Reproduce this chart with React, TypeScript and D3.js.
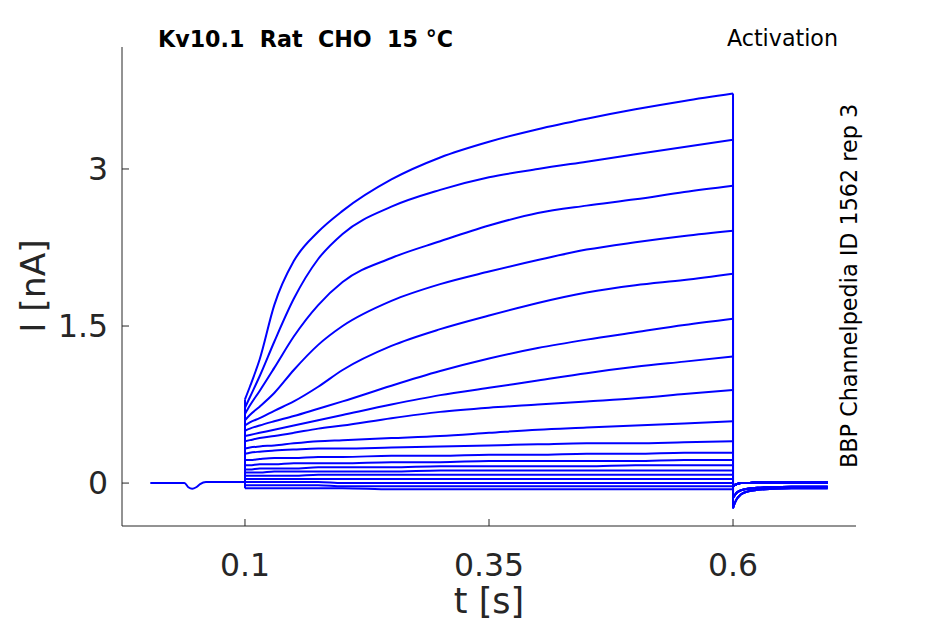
import React from 'react';
import * as d3 from 'd3';

// time points (s) sampled along the voltage step
const stepTimes = [0.1, 0.105, 0.115, 0.13, 0.15, 0.175, 0.2, 0.25, 0.3, 0.35, 0.4, 0.45, 0.5, 0.55, 0.6];

// current (nA) of each sweep at stepTimes
const sweep01 = [0.80, 0.92, 1.18, 1.70, 2.12, 2.40, 2.60, 2.90, 3.11, 3.26, 3.38, 3.48, 3.57, 3.65, 3.72];
const sweep02 = [0.72, 0.82, 1.02, 1.35, 1.76, 2.14, 2.38, 2.64, 2.80, 2.92, 3.00, 3.07, 3.14, 3.21, 3.28];
const sweep03 = [0.66, 0.74, 0.88, 1.10, 1.40, 1.70, 1.92, 2.15, 2.31, 2.46, 2.58, 2.65, 2.71, 2.78, 2.84];
const sweep04 = [0.60, 0.65, 0.73, 0.86, 1.08, 1.32, 1.50, 1.74, 1.90, 2.02, 2.13, 2.23, 2.30, 2.36, 2.41];
const sweep05 = [0.55, 0.58, 0.62, 0.69, 0.78, 0.92, 1.08, 1.31, 1.47, 1.60, 1.72, 1.82, 1.89, 1.94, 2.00];
const sweep06 = [0.50, 0.52, 0.55, 0.59, 0.64, 0.71, 0.78, 0.93, 1.07, 1.19, 1.29, 1.37, 1.44, 1.51, 1.57];
const sweep07 = [0.45, 0.46, 0.48, 0.51, 0.55, 0.60, 0.65, 0.75, 0.84, 0.91, 0.98, 1.05, 1.11, 1.16, 1.21];
const sweep08 = [0.40, 0.41, 0.43, 0.45, 0.48, 0.52, 0.55, 0.62, 0.68, 0.72, 0.75, 0.78, 0.81, 0.85, 0.89];
const sweep09 = [0.33, 0.34, 0.35, 0.36, 0.38, 0.40, 0.41, 0.43, 0.45, 0.48, 0.51, 0.53, 0.55, 0.57, 0.59];
const sweep10 = [0.28, 0.29, 0.30, 0.31, 0.32, 0.33, 0.33, 0.34, 0.35, 0.36, 0.37, 0.38, 0.38, 0.39, 0.40];
const sweep11 = [0.22, 0.22, 0.23, 0.24, 0.24, 0.25, 0.25, 0.26, 0.26, 0.27, 0.27, 0.28, 0.28, 0.29, 0.29];
const sweep12 = [0.17, 0.17, 0.18, 0.18, 0.19, 0.19, 0.19, 0.20, 0.20, 0.21, 0.21, 0.21, 0.21, 0.22, 0.22];
const sweep13 = [0.13, 0.13, 0.14, 0.14, 0.14, 0.15, 0.15, 0.15, 0.16, 0.16, 0.16, 0.16, 0.17, 0.17, 0.17];
const sweep14 = [0.10, 0.10, 0.10, 0.11, 0.11, 0.11, 0.11, 0.11, 0.12, 0.12, 0.12, 0.12, 0.12, 0.12, 0.12];
const sweep15 = [0.07, 0.07, 0.07, 0.07, 0.07, 0.08, 0.08, 0.08, 0.08, 0.08, 0.08, 0.08, 0.08, 0.08, 0.08];
const sweep16 = [0.04, 0.04, 0.04, 0.04, 0.04, 0.04, 0.04, 0.04, 0.04, 0.04, 0.04, 0.04, 0.04, 0.04, 0.04];
const sweep17 = [0.01, 0.01, 0.01, 0.01, 0.01, 0.01, 0.00, 0.00, 0.00, 0.00, 0.00, 0.00, 0.00, 0.00, 0.00];
const sweep18 = [-0.02, -0.02, -0.02, -0.02, -0.02, -0.02, -0.03, -0.03, -0.03, -0.03, -0.03, -0.03, -0.03, -0.03, -0.03];
const sweep19 = [-0.05, -0.05, -0.05, -0.05, -0.05, -0.05, -0.05, -0.06, -0.06, -0.06, -0.06, -0.06, -0.06, -0.06, -0.06];

const sweeps = [sweep01, sweep02, sweep03, sweep04, sweep05, sweep06, sweep07, sweep08, sweep09, sweep10,
  sweep11, sweep12, sweep13, sweep14, sweep15, sweep16, sweep17, sweep18, sweep19];

// holding period before the step (same for every sweep)
const holdTimes = [0.003, 0.038, 0.042, 0.046, 0.05, 0.054, 0.06, 0.1];
const holdValues = [0.0, 0.0, -0.04, -0.055, -0.04, -0.01, 0.01, 0.01];

// tail currents after the step
const tailTimes = [0.6, 0.6015, 0.604, 0.608, 0.615, 0.625, 0.64, 0.66, 0.68, 0.697];
const tailDeep = [-0.24, -0.20, -0.15, -0.11, -0.08, -0.065, -0.055, -0.05, -0.05, -0.05];
const tailMid = [-0.14, -0.12, -0.09, -0.07, -0.055, -0.045, -0.04, -0.035, -0.035, -0.035];
const tailShallow = [-0.03, -0.02, -0.01, 0.0, 0.0, 0.005, 0.005, 0.005, 0.005, 0.005];
const tailOfSweep = [tailDeep, tailDeep, tailDeep, tailMid, tailMid, tailMid, tailMid, tailMid,
  tailShallow, tailShallow, tailShallow, tailShallow, tailShallow, tailShallow, tailShallow,
  tailShallow, tailShallow, tailShallow, tailShallow];

const xTicks = [0.1, 0.35, 0.6];
const yTicks = [0, 1.5, 3];

const W = 945;
const H = 624;
const font = 'DejaVu Sans, sans-serif';
const axisColor = '#262626';
const traceColor = '#0000ff';

const App: React.FC = () => {
  const x = d3.scaleLinear().domain([-0.026, 0.726]).range([122, 856]);
  const y = d3.scaleLinear().domain([-0.41, 4.165]).range([526, 47]);

  const line = d3.line<[number, number]>().x(d => x(d[0])).y(d => y(d[1]));
  const smooth = d3.line<[number, number]>().x(d => x(d[0])).y(d => y(d[1])).curve(d3.curveMonotoneX);

  const hold = holdTimes.map((t, i) => [t, holdValues[i]] as [number, number]);

  return (
    <svg width={W} height={H} style={{ position: 'absolute', left: 0, top: 0, background: '#fff' }}>
      {/* sweeps */}
      <g fill="none" stroke={traceColor} strokeWidth={2} strokeLinejoin="round">
        <path d={smooth(hold) || ''} />
        {sweeps.map((s, i) => {
          const step = stepTimes.map((t, k) => [t, s[k]] as [number, number]);
          const tailVals = tailOfSweep[i];
          const tail = tailTimes.map((t, k) => [t, tailVals[k]] as [number, number]);
          return (
            <g key={i}>
              <path d={line([[0.1, holdValues[holdValues.length - 1]], [0.1, s[0]]]) || ''} />
              <path d={smooth(step) || ''} />
              <path d={line([[0.6, s[s.length - 1]], [0.6, tailVals[0]]]) || ''} />
              <path d={smooth(tail) || ''} />
            </g>
          );
        })}
      </g>

      {/* axes */}
      <g stroke={axisColor} strokeWidth={1} fill="none">
        <line x1={122} x2={122} y1={y(4.165)} y2={y(-0.41)} />
        <line x1={x(-0.026)} x2={x(0.726)} y1={526} y2={526} />
        {yTicks.map(v => (
          <line key={v} x1={122} x2={129} y1={y(v)} y2={y(v)} />
        ))}
        {xTicks.map(v => (
          <line key={v} x1={x(v)} x2={x(v)} y1={526} y2={519} />
        ))}
      </g>
      <g fontFamily={font} fill={axisColor} fontSize={31.5}>
        {yTicks.map(v => (
          <text key={v} x={108} y={y(v)} textAnchor="end" dominantBaseline="central">{v}</text>
        ))}
        {xTicks.map(v => (
          <text key={v} x={x(v)} y={576} textAnchor="middle">{v}</text>
        ))}
      </g>
      <text x={x(0.35)} y={613} textAnchor="middle" fontFamily={font} fontSize={35} fill={axisColor}>t [s]</text>
      <text transform={`translate(45,${y(1.5) - 40}) rotate(-90)`} textAnchor="middle"
        fontFamily={font} fontSize={34.5} fill={axisColor}>I [nA]</text>

      {/* annotations */}
      <text x={158} y={47} fontFamily={font} fontSize={22.2} fontWeight="bold" fill="#000"
        style={{ whiteSpace: 'pre' }}>{'Kv10.1  Rat  CHO  15 °C'}</text>
      <text x={838} y={46} textAnchor="end" fontFamily={font} fontSize={22.2} fill="#000">Activation</text>
      <text transform="translate(857,468) rotate(-90)" fontFamily={font} fontSize={22.3} fill="#000">
        BBP Channelpedia ID 1562 rep 3
      </text>
    </svg>
  );
};

export default App;
